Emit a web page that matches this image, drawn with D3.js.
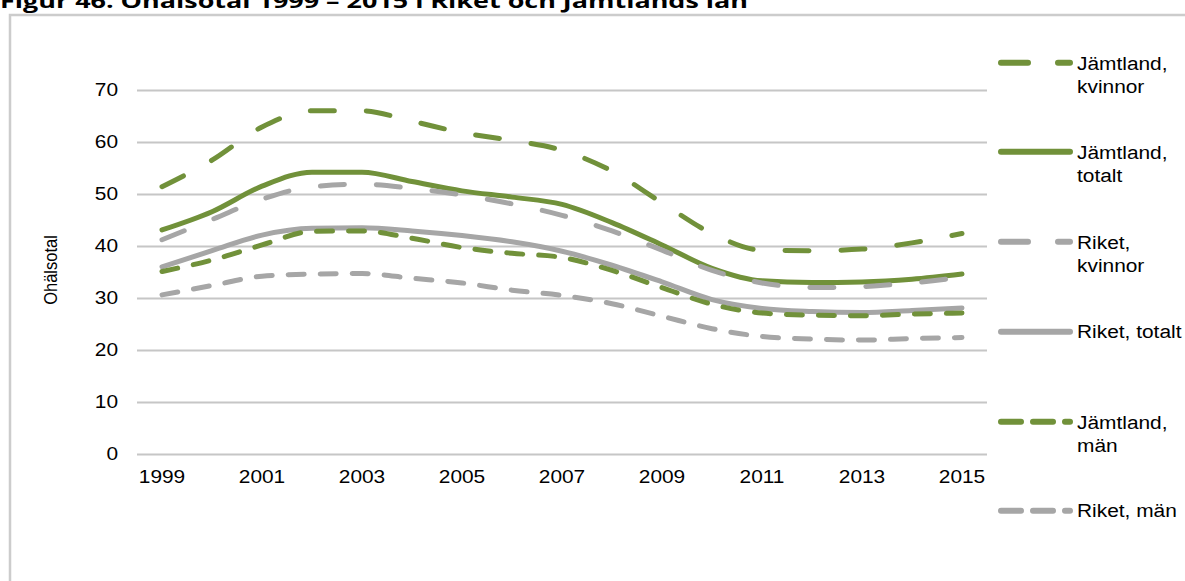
<!DOCTYPE html>
<html>
<head>
<meta charset="utf-8">
<script src="https://cdn.jsdelivr.net/npm/d3@7"></script>
<style>
  html, body { margin: 0; padding: 0; background: #ffffff; }
  svg { display: block; }
</style>
</head>
<body>
<svg id="chart" width="1185" height="581"></svg>
<script>
// ---- data ----
const years = [1999, 2000, 2001, 2002, 2003, 2004, 2005, 2006, 2007, 2008, 2009, 2010, 2011, 2012, 2013, 2014, 2015];
const xTickYears = [1999, 2001, 2003, 2005, 2007, 2009, 2011, 2013, 2015];
const yTicks = [0, 10, 20, 30, 40, 50, 60, 70];

const jamtlandKvinnor = [51.4, 56.5, 62.9, 66.0, 66.0, 64.0, 61.8, 60.3, 58.4, 54.4, 48.3, 42.4, 39.2, 39.1, 39.4, 40.6, 42.4];
const jamtlandTotalt  = [43.1, 46.6, 51.5, 54.2, 54.2, 52.4, 50.6, 49.4, 48.0, 44.5, 40.2, 35.7, 33.3, 33.0, 33.1, 33.6, 34.6];
const riketKvinnor    = [41.2, 45.1, 49.0, 51.4, 51.9, 51.1, 49.8, 48.1, 45.9, 42.9, 39.2, 35.3, 32.9, 32.0, 32.2, 32.9, 34.0];
const riketTotalt     = [36.0, 39.1, 42.1, 43.4, 43.5, 42.9, 42.0, 40.8, 39.0, 36.3, 33.1, 29.7, 28.0, 27.4, 27.2, 27.6, 28.1];
const jamtlandMan     = [35.1, 37.3, 40.2, 42.8, 42.9, 41.5, 39.7, 38.6, 37.8, 35.3, 32.0, 28.8, 27.1, 26.7, 26.6, 26.9, 27.1];
const riketMan        = [30.6, 32.4, 34.2, 34.6, 34.7, 33.8, 32.9, 31.5, 30.5, 28.9, 26.5, 24.1, 22.6, 22.1, 21.9, 22.2, 22.4];

const seriesNames = [["Jämtland,", "kvinnor"], ["Jämtland,", "totalt"], ["Riket,", "kvinnor"], ["Riket, totalt"], ["Jämtland,", "män"], ["Riket, män"]];
const seriesValues = [jamtlandKvinnor, jamtlandTotalt, riketKvinnor, riketTotalt, jamtlandMan, riketMan];

const titleText = "Figur 46. Ohälsotal 1999 – 2015 i Riket och Jämtlands län";
const yAxisTitle = "Ohälsotal";

// ---- styles ----
const GREEN = "#71913a";
const GRAY = "#a6a6a6";
const styles = [
  { color: GREEN, dash: "24,32", legendDash: "27,30" },
  { color: GREEN, dash: null, legendDash: null },
  { color: GRAY, dash: "24,32", legendDash: "27,30" },
  { color: GRAY, dash: null, legendDash: null },
  { color: GREEN, dash: "16,16", legendDash: "20,12" },
  { color: GRAY, dash: "16,16", legendDash: "20,12" }
];
const STRETCH = 1.16; // reference text is horizontally widened

const svg = d3.select("#chart");
const font = "'Liberation Sans', Arial, sans-serif";

function widen(sel, k) {
  sel.each(function () {
    const len = this.getComputedTextLength();
    d3.select(this).attr("textLength", len * k).attr("lengthAdjust", "spacingAndGlyphs");
  });
}

// frame
svg.append("path")
  .attr("d", "M10,600 L10,15 L1190,15")
  .attr("fill", "none")
  .attr("stroke", "#cccccc")
  .attr("stroke-width", 2.5);

// title (cut off at top like the reference)
svg.append("text")
  .attr("x", 0)
  .attr("y", 8)
  .attr("font-family", "'Open Sans', 'Liberation Sans', sans-serif")
  .attr("font-weight", "bold")
  .attr("font-size", 19)
  .attr("fill", "#000")
  .attr("textLength", 748)
  .attr("lengthAdjust", "spacingAndGlyphs")
  .text(titleText);

// scales
const plotLeft = 137, plotRight = 987, plotTop = 90, plotBottom = 454;
const x = d3.scaleBand().domain(years).range([plotLeft, plotRight]).padding(0);
const xc = d => x(d) + x.bandwidth() / 2;
const y = d3.scaleLinear().domain([0, 70]).range([plotBottom, plotTop]);

// gridlines via axis
const yAxis = d3.axisLeft(y).tickValues(yTicks).tickSize(-(plotRight - plotLeft)).tickPadding(19).tickFormat(d3.format("d"));
const gy = svg.append("g").attr("transform", `translate(${plotLeft},0)`).call(yAxis);
gy.select(".domain").remove();
gy.selectAll(".tick line").attr("stroke", "#c6c6c6").attr("stroke-width", 2);
gy.selectAll(".tick text").attr("font-family", font).attr("font-size", 18).attr("fill", "#000");
widen(gy.selectAll(".tick text"), STRETCH);

const xAxis = d3.axisBottom(x).tickValues(xTickYears).tickSize(0).tickPadding(16);
const gx = svg.append("g").attr("transform", `translate(0,${plotBottom})`).call(xAxis);
gx.select(".domain").remove();
gx.selectAll(".tick text").attr("font-family", font).attr("font-size", 18).attr("fill", "#000");
widen(gx.selectAll(".tick text"), STRETCH);

// y axis title (glyph height widened like the rest of the text)
svg.append("text")
  .attr("transform", `translate(57,270) scale(${STRETCH},1) rotate(-90)`)
  .attr("text-anchor", "middle")
  .attr("font-family", font)
  .attr("font-size", 16.5)
  .attr("fill", "#000")
  .text(yAxisTitle);

// lines
const line = d3.line()
  .x((d, i) => xc(years[i]))
  .y(d => y(d))
  .curve(d3.curveMonotoneX);

seriesValues.forEach((vals, i) => {
  const s = styles[i];
  const p = svg.append("path")
    .datum(vals)
    .attr("d", line)
    .attr("fill", "none")
    .attr("stroke", s.color)
    .attr("stroke-width", 5)
    .attr("stroke-linecap", "round")
    .attr("stroke-linejoin", "round");
  if (s.dash) p.attr("stroke-dasharray", s.dash);
});

// legend
const legendYs = [62.7, 151.7, 241.7, 331.7, 421.7, 510.7];
const legend = svg.append("g");
seriesNames.forEach((lines, i) => {
  const s = styles[i];
  const ly = legendYs[i];
  const lp = legend.append("line")
    .attr("x1", 1001).attr("x2", 1070)
    .attr("y1", ly).attr("y2", ly)
    .attr("stroke", s.color)
    .attr("stroke-width", 6)
    .attr("stroke-linecap", "round");
  if (s.legendDash) lp.attr("stroke-dasharray", s.legendDash);
  const base = lines.length > 1 ? ly + 7 : ly + 6;
  lines.forEach((ln, j) => {
    const t = legend.append("text")
      .attr("x", 1077)
      .attr("y", base + j * 23.5)
      .attr("font-family", font)
      .attr("font-size", 18)
      .attr("fill", "#000")
      .text(ln);
    widen(t, STRETCH);
  });
});
</script>
</body>
</html>
